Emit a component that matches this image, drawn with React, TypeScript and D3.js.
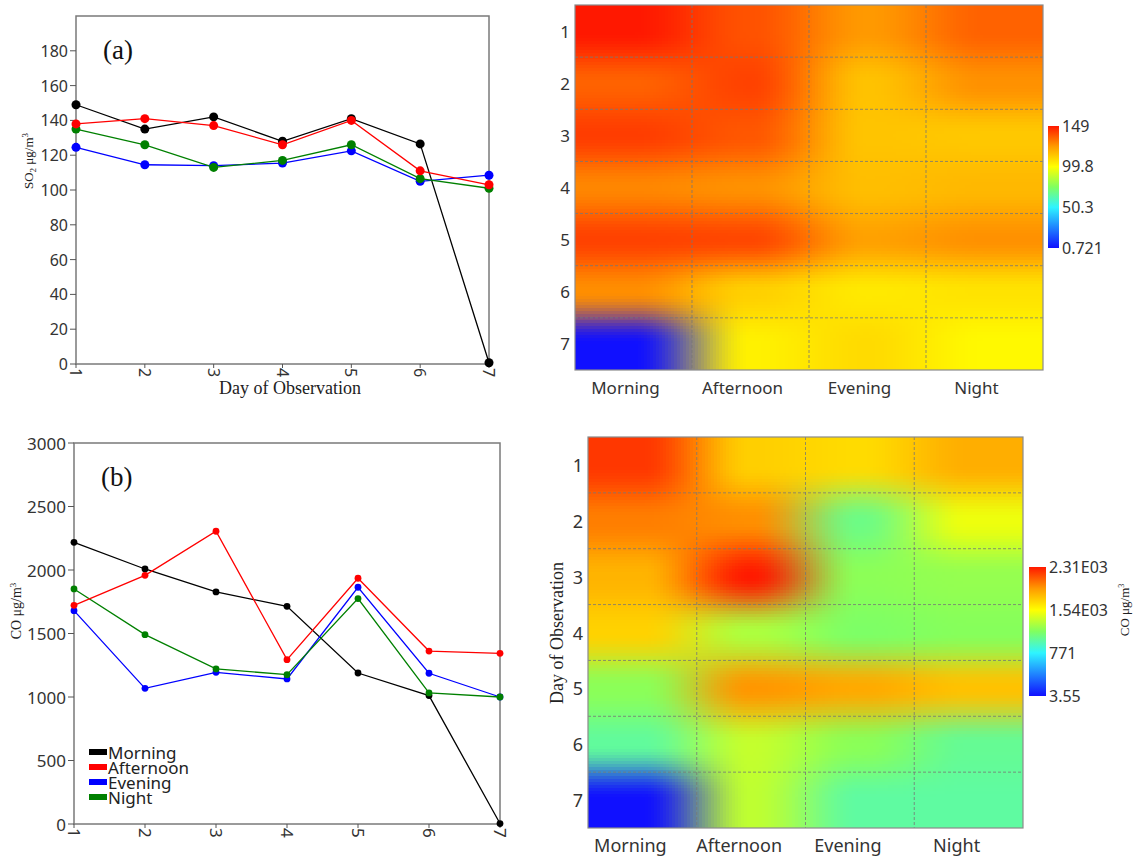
import React from 'react';
import * as d3 from 'd3';

// days of observation and time-of-day groups
const days = [1, 2, 3, 4, 5, 6, 7];
const periods = ['Morning', 'Afternoon', 'Evening', 'Night'];
const periodColors = ['#000000', '#ff0000', '#0000ff', '#008000'];

// SO2 (ug/m3)
const so2Morning = [149, 135, 142, 128, 141, 126.5, 0.721];
const so2Afternoon = [138, 141, 137, 126, 140, 111, 103];
const so2Evening = [124.5, 114.5, 114, 115.5, 122.5, 105, 108.5];
const so2Night = [135, 126, 113, 117, 126, 106.5, 101];

// CO (ug/m3)
const coMorning = [2218, 2008, 1827, 1714, 1189, 1011, 3.55];
const coAfternoon = [1722, 1958, 2305, 1294, 1935, 1362, 1344];
const coEvening = [1680, 1068, 1194, 1142, 1864, 1187, 1000];
const coNight = [1851, 1491, 1221, 1176, 1775, 1032, 1000];

const so2Ticks = [0, 20, 40, 60, 80, 100, 120, 140, 160, 180];
const coTicks = [0, 500, 1000, 1500, 2000, 2500, 3000];

const so2BarValues = [0.721, 50.3, 99.8, 149];
const so2BarLabels = ['0.721', '50.3', '99.8', '149'];
const coBarValues = [3.55, 771, 1540, 2310];
const coBarLabels = ['3.55', '771', '1.54E03', '2.31E03'];

const rampStops = [0, 1 / 3, 0.5, 2 / 3, 5 / 6, 1];
const rampColors = ['#1010ff', '#2ef4ff', '#80ff60', '#ffff00', '#ff9a00', '#ff1800'];

const sans = '"Noto Sans", "Open Sans", sans-serif';
const serif = '"Liberation Serif", "DejaVu Serif", serif';

function makeColor(min: number, max: number) {
  return d3.scaleLinear<string>()
    .domain(rampStops.map(t => min + t * (max - min)))
    .range(rampColors)
    .interpolate(d3.interpolateRgb)
    .clamp(true);
}

function LineChart({ x0, x1, y0, y1, yMax, ticks, series, r, tickSize, label }: any) {
  const x = d3.scalePoint<number>().domain(days).range([x0, x1]);
  const y = d3.scaleLinear().domain([0, yMax]).range([y1, y0]);
  const line = d3.line<number>().x((d, i) => x(days[i])!).y(d => y(d));
  const order = [0, 2, 3, 1];
  return (
    <g>
      <rect x={x0} y={y0} width={x1 - x0} height={y1 - y0} fill="none" stroke="#7a7a7a" strokeWidth={1.5} />
      {ticks.map((t: number) => (
        <g key={t}>
          <line x1={x0 - 6} x2={x0} y1={y(t)} y2={y(t)} stroke="#555" />
          <text x={x0 - 8} y={y(t)} textAnchor="end" dominantBaseline="central" fontFamily={sans} fontSize={tickSize} fill="#333">{t}</text>
        </g>
      ))}
      {days.map(d => (
        <g key={d}>
          <line x1={x(d)} x2={x(d)} y1={y1} y2={y1 + 4} stroke="#555" />
          <text transform={`translate(${x(d)},${y1 + 4}) rotate(90)`} dominantBaseline="central" fontFamily={sans} fontSize={tickSize} fill="#333">{d}</text>
        </g>
      ))}
      {order.map(k => (
        <g key={k}>
          <path d={line(series[k])!} fill="none" stroke={periodColors[k]} strokeWidth={1.3} />
          {series[k].map((v: number, i: number) => (
            <circle key={i} cx={x(days[i])} cy={y(v)} r={r} fill={periodColors[k]} />
          ))}
        </g>
      ))}
      <text x={x0 + 27} y={y0 + 43} fontFamily={serif} fontSize={27} fill="#111">{label}</text>
    </g>
  );
}

function mix(a: any, b: any, t: number) {
  return { r: a.r + (b.r - a.r) * t, g: a.g + (b.g - a.g) * t, b: a.b + (b.b - a.b) * t };
}

function Heatmap({ x0, x1, y0, y1, series, min, max, step, labelSize, labelDx, barX, barW, barY0, barY1, barValues, barLabels, barSize, id }: any) {
  const xs = d3.scaleBand<string>().domain(periods).range([x0, x1]);
  const ys = d3.scaleBand<string>().domain(days.map(String)).range([y0, y1]);
  const color = makeColor(min, max);
  const cells = series.map((s: number[]) => s.map(v => d3.rgb(color(v))));
  const cw = xs.bandwidth();
  const ch = ys.bandwidth();
  const smooth = (t: number) => t * t * (3 - 2 * t);
  const px: any[] = [];
  for (let py = y0; py < y1; py += step) {
    let v = (py + step / 2 - y0) / ch - 0.5;
    v = Math.max(0, Math.min(days.length - 1, v));
    const j = Math.min(Math.floor(v), days.length - 2);
    const ty = smooth(v - j);
    for (let qx = x0; qx < x1; qx += step) {
      let u = (qx + step / 2 - x0) / cw - 0.5;
      u = Math.max(0, Math.min(periods.length - 1, u));
      const i = Math.min(Math.floor(u), periods.length - 2);
      const tx = smooth(u - i);
      const a = mix(cells[i][j], cells[i + 1][j], tx);
      const b = mix(cells[i][j + 1], cells[i + 1][j + 1], tx);
      const c = mix(a, b, ty);
      px.push(
        <rect key={`${qx}-${py}`} x={qx} y={py} width={Math.min(step, x1 - qx)} height={Math.min(step, y1 - py)}
          fill={`rgb(${Math.round(c.r)},${Math.round(c.g)},${Math.round(c.b)})`} />
      );
    }
  }
  const bar = d3.scaleLinear().domain([min, max]).range([barY1, barY0]);
  const gradId = `grad-${id}`;
  return (
    <g>
      <g shapeRendering="crispEdges">{px}</g>
      {periods.slice(1).map(p => (
        <line key={p} x1={xs(p)} x2={xs(p)} y1={y0} y2={y1} stroke="#777" strokeDasharray="3,2" strokeOpacity={0.8} />
      ))}
      {days.slice(1).map(d => (
        <line key={d} x1={x0} x2={x1} y1={ys(String(d))} y2={ys(String(d))} stroke="#777" strokeDasharray="3,2" strokeOpacity={0.8} />
      ))}
      <rect x={x0} y={y0} width={x1 - x0} height={y1 - y0} fill="none" stroke="#8a8a8a" strokeWidth={1.2} />
      {days.map(d => (
        <text key={d} x={x0 - 5} y={ys(String(d))! + ch / 2} textAnchor="end" dominantBaseline="central" fontFamily={sans} fontSize={labelSize} fill="#333">{d}</text>
      ))}
      {periods.map(p => (
        <text key={p} x={xs(p)! + cw / 2 + labelDx} y={y1 + 17} textAnchor="middle" dominantBaseline="central" fontFamily={sans} fontSize={labelSize} fill="#333">{p}</text>
      ))}
      <defs>
        <linearGradient id={gradId} x1="0" y1="1" x2="0" y2="0">
          {rampStops.map((s, k) => <stop key={k} offset={s} stopColor={rampColors[k]} />)}
        </linearGradient>
      </defs>
      <rect x={barX} y={barY0} width={barW} height={barY1 - barY0} fill={`url(#${gradId})`} />
      {barValues.map((v: number, k: number) => (
        <text key={k} x={barX + barW + 3} y={bar(v)} dominantBaseline="central" fontFamily={sans} fontSize={barSize} fill="#333">{barLabels[k]}</text>
      ))}
    </g>
  );
}

export default function App() {
  const so2 = [so2Morning, so2Afternoon, so2Evening, so2Night];
  const co = [coMorning, coAfternoon, coEvening, coNight];
  const legendY = [752, 767, 782, 797];
  return (
    <svg width={1135} height={859} style={{ position: 'absolute', left: 0, top: 0, background: '#fff' }}>
      <rect width={1135} height={859} fill="#fff" />
      {/* (a) SO2 lines */}
      <LineChart x0={76} x1={489} y0={16} y1={364} yMax={200} ticks={so2Ticks} series={so2} r={4.5} tickSize={16} label="(a)" />
      <text transform="translate(33,161) rotate(-90)" textAnchor="middle" fontFamily={serif} fontSize={13} fill="#222">
        SO<tspan fontSize={9} dy={3}>2</tspan><tspan dy={-3}> μg/m</tspan><tspan fontSize={9} dy={-5}>3</tspan>
      </text>
      <text x={290} y={394} textAnchor="middle" fontFamily={serif} fontSize={18} fill="#222">Day of Observation</text>

      {/* (b) CO lines */}
      <LineChart x0={74} x1={500} y0={443} y1={824} yMax={3000} ticks={coTicks} series={co} r={3.4} tickSize={17} label="(b)" />
      <text transform="translate(21,611) rotate(-90)" textAnchor="middle" fontFamily={serif} fontSize={14} fill="#222">
        CO μg/m<tspan fontSize={9} dy={-5}>3</tspan>
      </text>
      {periods.map((p, k) => (
        <g key={p}>
          <rect x={89} y={legendY[k] - 3} width={18} height={6} fill={periodColors[k]} />
          <text x={108} y={legendY[k]} dominantBaseline="central" fontFamily={sans} fontSize={17} fill="#222">{p}</text>
        </g>
      ))}

      {/* SO2 heatmap */}
      <Heatmap id="so2" x0={575} x1={1043} y0={5} y1={370} series={so2} min={0.721} max={149} step={3}
        labelSize={17} labelDx={-8} barX={1048} barW={11} barY0={126} barY1={248}
        barValues={so2BarValues} barLabels={so2BarLabels} barSize={16} />

      {/* CO heatmap */}
      <Heatmap id="co" x0={588} x1={1023} y0={437} y1={828} series={co} min={3.55} max={2310} step={3}
        labelSize={18} labelDx={-12} barX={1029} barW={17} barY0={567} barY1={696}
        barValues={coBarValues} barLabels={coBarLabels} barSize={16} />
      <text transform="translate(563,633) rotate(-90)" textAnchor="middle" fontFamily={serif} fontSize={18} fill="#222">Day of Observation</text>
      <text transform="translate(1129,610) rotate(-90)" textAnchor="middle" fontFamily={serif} fontSize={13} fill="#222">
        CO μg/m<tspan fontSize={8} dy={-5}>3</tspan>
      </text>
    </svg>
  );
}
